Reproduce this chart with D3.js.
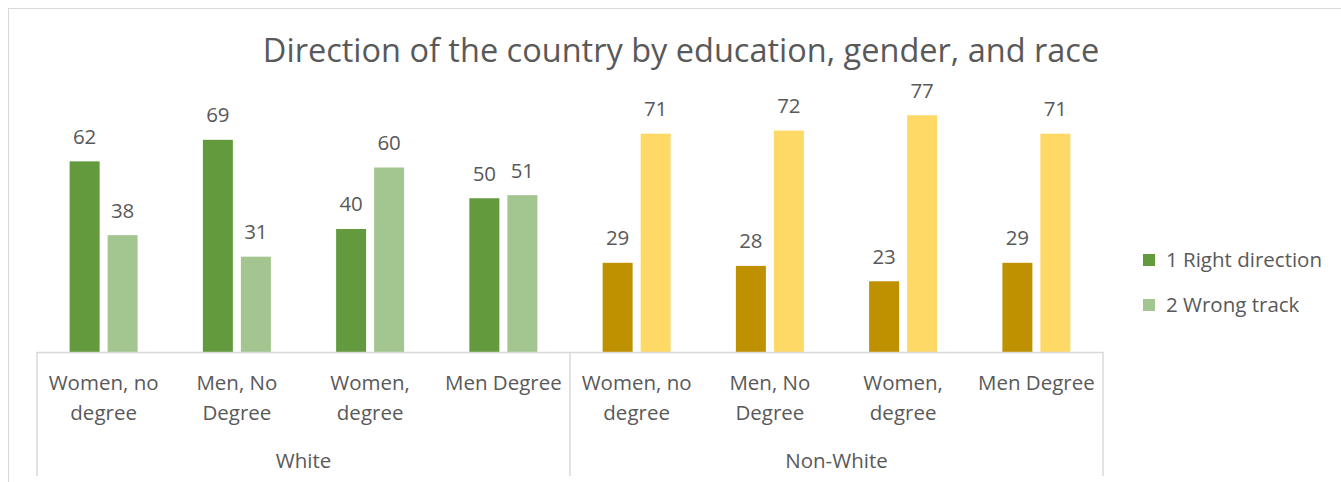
<!DOCTYPE html>
<html>
<head>
<meta charset="utf-8">
<script src="https://cdn.jsdelivr.net/npm/d3@7"></script>
<style>
  body { margin: 0; background: #fff; }
  svg text { font-family: "Open Sans", Lato, sans-serif; fill: #595959; }
</style>
</head>
<body>
<div id="chart"></div>
<script>
const groups = ["White", "Non-White"]
const categories = [
    ["Women, no", "degree"],
    ["Men, No", "Degree"],
    ["Women,", "degree"],
    ["Men Degree"]
]
const series = ["1 Right direction", "2 Wrong track"]
const right_direction = { "White": [62, 69, 40, 50], "Non-White": [29, 28, 23, 29] }
const wrong_track = { "White": [38, 31, 60, 51], "Non-White": [71, 72, 77, 71] }
const colors = {
    "White": ["#629A3D", "#A3C690"],
    "Non-White": ["#BF9000", "#FFD966"]
}

const width = 1341, height = 482
const labelSize = "20.5px"
const svg = d3.select("#chart").append("svg")
    .attr("width", width)
    .attr("height", height)

// outer chart frame (cropped at right and bottom)
svg.append("rect")
    .attr("x", 8.5).attr("y", 8.5)
    .attr("width", 1360).attr("height", 500)
    .attr("fill", "none")
    .attr("stroke", "#d9d9d9")

svg.append("text")
    .attr("x", 681).attr("y", 53)
    .attr("text-anchor", "middle")
    .attr("dominant-baseline", "middle")
    .style("font-size", "32.5px")
    .text("Direction of the country by education, gender, and race")

// flatten groups x categories
const rows = []
groups.forEach(g => {
    categories.forEach((c, i) => {
        rows.push({ group: g, label: c, values: [right_direction[g][i], wrong_track[g][i]] })
    })
})

const x = d3.scaleBand()
    .domain(d3.range(rows.length))
    .range([37, 1103])
    .padding(0)

const y = d3.scaleLinear()
    .domain([0, 80])
    .range([352, 106])

const baseline = y(0)

rows.forEach((row, i) => {
    const cx = x(i) + x.bandwidth() / 2
    const inner = d3.scaleBand()
        .domain(series)
        .range([cx - 34, cx + 34])
        .paddingInner(8 / 38)
    const g = svg.append("g")
    g.selectAll("rect")
        .data(row.values)
        .join("rect")
        .attr("x", (d, j) => inner(series[j]))
        .attr("y", d => y(d))
        .attr("width", inner.bandwidth())
        .attr("height", d => baseline - y(d))
        .attr("fill", (d, j) => colors[row.group][j])
    g.selectAll("text.val")
        .data(row.values)
        .join("text")
        .attr("class", "val")
        .attr("x", (d, j) => inner(series[j]) + inner.bandwidth() / 2)
        .attr("y", d => y(d) - 23)
        .attr("text-anchor", "middle")
        .attr("dominant-baseline", "middle")
        .style("font-size", labelSize)
        .text(d => d)

    // category label
    const lab = svg.append("text")
        .attr("text-anchor", "middle")
        .style("font-size", labelSize)
    row.label.forEach((line, k) => {
        lab.append("tspan")
            .attr("x", cx)
            .attr("y", 385 + k * 30)
            .attr("dominant-baseline", "middle")
            .text(line)
    })
})

// axis line and group separators
svg.append("line")
    .attr("x1", x.range()[0]).attr("x2", x.range()[1])
    .attr("y1", baseline + 0.5).attr("y2", baseline + 0.5)
    .attr("stroke", "#d9d9d9").attr("stroke-width", 1.5)

const groupEdges = [0, categories.length, rows.length]
groupEdges.forEach(i => {
    const xx = i < rows.length ? x(i) : x.range()[1]
    svg.append("line")
        .attr("x1", xx).attr("x2", xx)
        .attr("y1", baseline).attr("y2", 476)
        .attr("stroke", "#d9d9d9").attr("stroke-width", 1.5)
})

groups.forEach((g, gi) => {
    const x0 = x(gi * categories.length)
    const x1 = gi === groups.length - 1 ? x.range()[1] : x((gi + 1) * categories.length)
    svg.append("text")
        .attr("x", (x0 + x1) / 2)
        .attr("y", 463)
        .attr("text-anchor", "middle")
        .attr("dominant-baseline", "middle")
        .style("font-size", labelSize)
        .text(g)
})

// legend
const legend = svg.append("g")
series.forEach((s, j) => {
    const ly = 260 + j * 45
    legend.append("rect")
        .attr("x", 1143).attr("y", ly - 6)
        .attr("width", 12).attr("height", 12)
        .attr("fill", colors["White"][j])
    legend.append("text")
        .attr("x", 1166).attr("y", ly + 2)
        .attr("dominant-baseline", "middle")
        .style("font-size", labelSize)
        .text(s)
})
</script>
</body>
</html>
